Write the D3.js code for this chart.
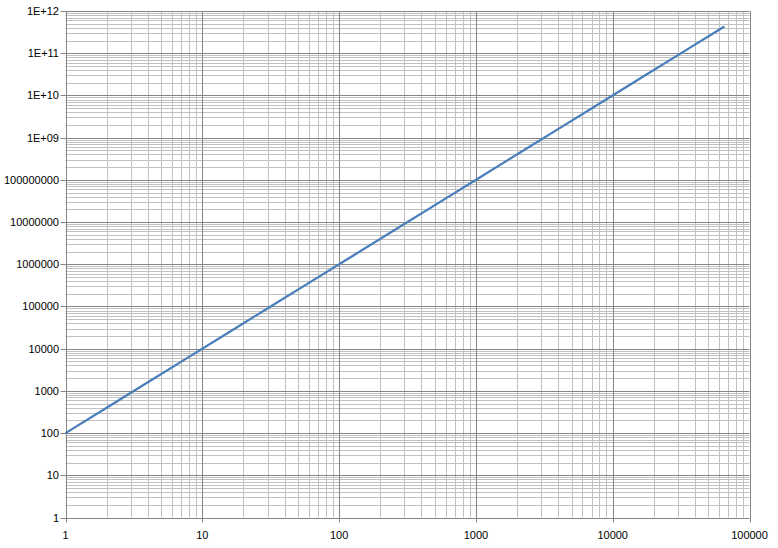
<!DOCTYPE html>
<html><head><meta charset="utf-8">
<script src="https://cdn.jsdelivr.net/npm/d3@7"></script>
<style>body{margin:0;background:#fff}svg text{font-family:"Liberation Sans",Arial,sans-serif;font-size:11px;fill:#000}</style>
</head><body><svg id="c" width="778" height="548"></svg>
<script>
const xValues = [1, 2, 4, 8, 16, 32, 64, 128, 256, 512, 1024, 2048, 4096, 8192, 16384, 32768, 65536];
const yValues = [100, 400, 1600, 6400, 25600, 102400, 409600, 1638400, 6553600, 26214400, 104857600, 419430400, 1677721600, 6710886400, 26843545600, 107374182400, 429496729600];
const xTickLabels = ["1", "10", "100", "1000", "10000", "100000"];
const yTickLabels = ["1", "10", "100", "1000", "10000", "100000", "1000000", "10000000", "100000000", "1E+09", "1E+10", "1E+11", "1E+12"];

const svg = d3.select("#c");
const L = 65.5, R = 749.5, T = 11, B = 517.5;
const x = d3.scaleLog().domain([1, 1e5]).range([L, R]);
const y = d3.scaleLog().domain([1, 1e12]).range([B, T]);

const g = svg.append("g");
// minor grid
const minorX = [], minorY = [];
for (let d = 0; d < 5; d++) for (let k = 2; k <= 9; k++) minorX.push(k * Math.pow(10, d));
for (let d = 0; d < 12; d++) for (let k = 2; k <= 9; k++) minorY.push(k * Math.pow(10, d));
g.selectAll(".mx").data(minorX).join("line").attr("x1", d => Math.round(x(d)) + 0.5).attr("x2", d => Math.round(x(d)) + 0.5)
  .attr("y1", T).attr("y2", B).attr("stroke", "#c0c0c0").attr("stroke-width", 1);
g.selectAll(".my").data(minorY).join("line").attr("y1", d => Math.round(y(d)) + 0.5).attr("y2", d => Math.round(y(d)) + 0.5)
  .attr("x1", L).attr("x2", R).attr("stroke", "#c0c0c0").attr("stroke-width", 1);
// major grid
const majorX = xTickLabels.map((_, i) => Math.pow(10, i));
const majorY = yTickLabels.map((_, i) => Math.pow(10, i));
g.selectAll(".Mx").data(majorX).join("line").attr("x1", d => Math.round(x(d)) + 0.5).attr("x2", d => Math.round(x(d)) + 0.5)
  .attr("y1", T).attr("y2", B + 5).attr("stroke", "#868686").attr("stroke-width", 1);
g.selectAll(".My").data(majorY).join("line").attr("y1", d => Math.round(y(d)) + 0.5).attr("y2", d => Math.round(y(d)) + 0.5)
  .attr("x1", L - 5).attr("x2", R).attr("stroke", "#868686").attr("stroke-width", 1);

// axis labels
g.selectAll(".xl").data(majorX).join("text").attr("x", d => x(d)).attr("y", 539).attr("text-anchor", "middle")
  .text((d, i) => xTickLabels[i]);
g.selectAll(".yl").data(majorY).join("text").attr("x", 59).attr("y", d => y(d) + 4).attr("text-anchor", "end")
  .text((d, i) => yTickLabels[i]);

// line
const data = xValues.map((v, i) => [v, yValues[i]]);
svg.append("path").datum(data).attr("fill", "none").attr("stroke", "#4a7ebb").attr("stroke-width", 2.25)
  .attr("d", d3.line().x(d => x(d[0])).y(d => y(d[1])));
</script></body></html>
